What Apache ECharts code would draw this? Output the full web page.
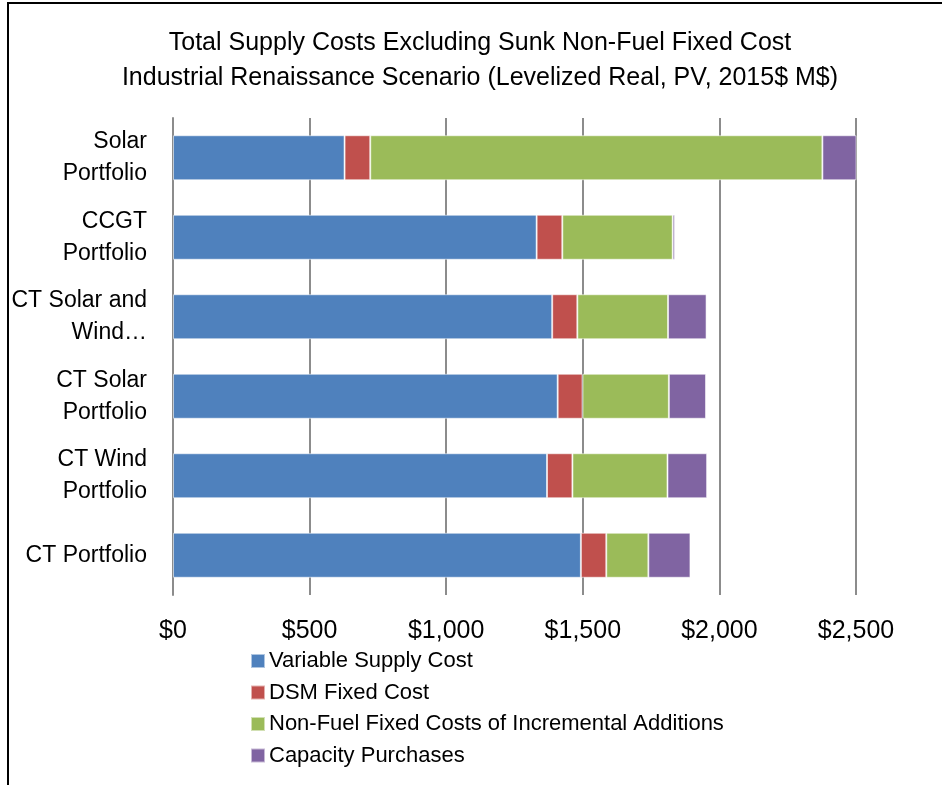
<!DOCTYPE html>
<html>
<head>
<meta charset="utf-8">
<script src="https://cdn.jsdelivr.net/npm/echarts@6/dist/echarts.min.js"></script>
<style>html,body{margin:0;padding:0;background:#fff;}#c{width:942px;height:785px;}</style>
</head>
<body>
<div id="c"></div>
<script>
const categories = ["Solar\nPortfolio", "CCGT\nPortfolio", "CT Solar and\nWind…", "CT Solar\nPortfolio", "CT Wind\nPortfolio", "CT Portfolio"];
const variableSupply = [628, 1331, 1388, 1408, 1369, 1493];
const dsmFixed = [94, 94, 92, 91, 93, 93];
const nonFuelFixed = [1655, 404, 332, 316, 348, 154];
const capacityPurchases = [126, 8, 141, 136, 145, 154];
const xTicks = [0, 500, 1000, 1500, 2000, 2500];
const seriesNames = ["Variable Supply Cost", "DSM Fixed Cost", "Non-Fuel Fixed Costs of Incremental Additions", "Capacity Purchases"];

const FONT = "'Liberation Sans Narrow', 'Liberation Sans', sans-serif";
const colors = ['#4F81BD', '#C0504D', '#9BBB59', '#8064A2'];
const chart = echarts.init(document.getElementById('c'));
const mk = (name, data, i) => ({
  name, type: 'bar', stack: 'total', data, barWidth: 45,
  itemStyle: { color: colors[i], borderColor: 'rgba(255,255,255,0.55)', borderWidth: 1 }
});
chart.setOption({
  animation: false,
  backgroundColor: '#fff',
  textStyle: { fontFamily: FONT },
  title: {
    text: 'Total Supply Costs Excluding Sunk Non-Fuel Fixed Cost\nIndustrial Renaissance Scenario (Levelized Real, PV, 2015$ M$)',
    left: 475, top: 21, textAlign: 'center',
    textStyle: { fontFamily: FONT, fontSize: 25, fontWeight: 'normal', color: '#000', lineHeight: 35 }
  },
  legend: {
    orient: 'vertical', left: 245, top: 645,
    itemWidth: 14, itemHeight: 14, itemGap: 9.5, icon: 'rect',
    data: seriesNames,
    textStyle: { fontFamily: FONT, fontSize: 22, lineHeight: 22, color: '#000', padding: [0, 0, 0, -1] }
  },
  grid: { left: 173, right: 86, top: 118, bottom: 190, containLabel: false },
  xAxis: {
    type: 'value', min: xTicks[0], max: xTicks[xTicks.length - 1], interval: 500,
    axisLine: { show: false }, axisTick: { show: false },
    splitLine: { show: true, lineStyle: { color: '#8c8c8c', width: 2 } },
    axisLabel: { fontFamily: FONT, fontSize: 25, color: '#000', margin: 24,
      formatter: v => '$' + v.toLocaleString('en-US') }
  },
  yAxis: {
    type: 'category', data: categories, inverse: true,
    axisLine: { show: true, lineStyle: { color: '#8c8c8c', width: 2 } },
    axisTick: { show: false },
    axisLabel: { fontFamily: FONT, fontSize: 23, color: '#000', margin: 26, lineHeight: 32, align: 'right' }
  },
  graphic: [
    { type: 'line', shape: { x1: 7, y1: 3, x2: 942, y2: 3 }, style: { stroke: '#000', lineWidth: 2 } },
    { type: 'line', shape: { x1: 8, y1: 3, x2: 8, y2: 785 }, style: { stroke: '#000', lineWidth: 2 } }
  ],
  series: [
    mk(seriesNames[0], variableSupply, 0),
    mk(seriesNames[1], dsmFixed, 1),
    mk(seriesNames[2], nonFuelFixed, 2),
    mk(seriesNames[3], capacityPurchases, 3)
  ]
});
</script>
</body>
</html>
